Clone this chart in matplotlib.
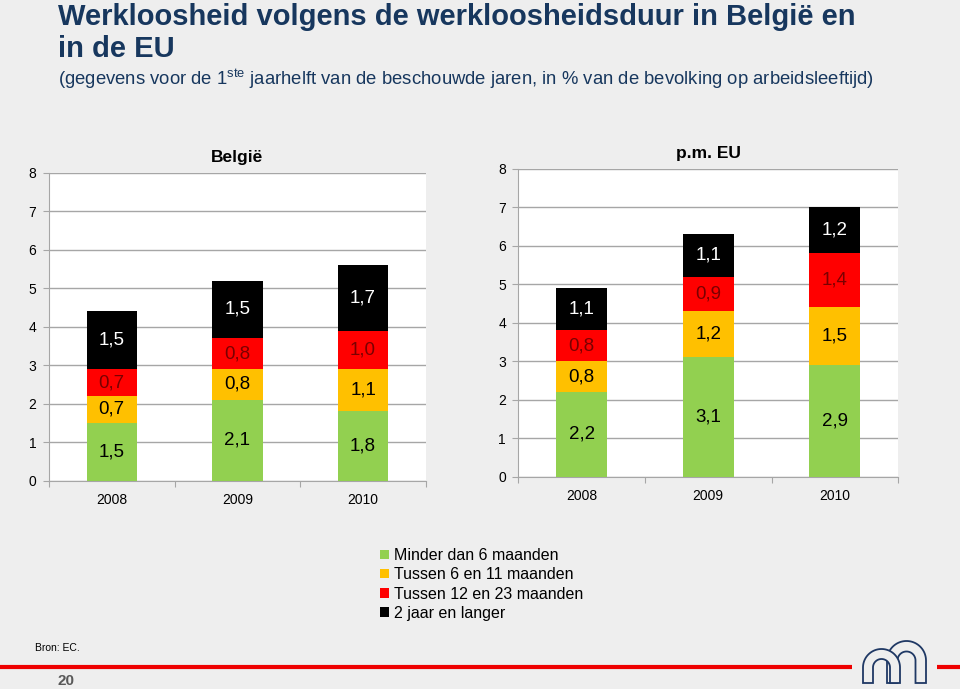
import matplotlib
matplotlib.use('Agg')
import matplotlib.pyplot as plt
from matplotlib.patches import Patch, PathPatch
from matplotlib.path import Path
import numpy as np

plt.rcParams['font.family'] = ['Liberation Sans', 'DejaVu Sans']
plt.rcParams['mathtext.fontset'] = 'custom'
plt.rcParams['mathtext.rm'] = 'Liberation Sans'

# data
years = ['2008', '2009', '2010']
series_names = ['Minder dan 6 maanden', 'Tussen 6 en 11 maanden',
                'Tussen 12 en 23 maanden', '2 jaar en langer']
be_lt6 = [1.5, 2.1, 1.8]
be_6_11 = [0.7, 0.8, 1.1]
be_12_23 = [0.7, 0.8, 1.0]
be_2plus = [1.5, 1.5, 1.7]
eu_lt6 = [2.2, 3.1, 2.9]
eu_6_11 = [0.8, 1.2, 1.5]
eu_12_23 = [0.8, 0.9, 1.4]
eu_2plus = [1.1, 1.1, 1.2]

colors = ['#92d050', '#ffc000', '#ff0000', '#000000']
label_colors = ['#000000', '#000000', '#7a0000', '#ffffff']
bg = '#eeeeee'
navy = '#17375e'
grid_c = '#a6a6a6'

fig = plt.figure(figsize=(9.6, 6.89), dpi=100, facecolor=bg)


def draw_panel(ax, stacks, title):
    x = np.arange(len(years))
    bottom = np.zeros(len(years))
    for vals, c, lc in zip(stacks, colors, label_colors):
        vals = np.array(vals)
        ax.bar(x, vals, 0.4, bottom=bottom, color=c, zorder=3)
        for xi, b, v in zip(x, bottom, vals):
            ax.text(xi, b + v / 2, f'{v:.1f}'.replace('.', ','), ha='center',
                    va='center', fontsize=13.5, color=lc, zorder=4)
        bottom += vals
    ax.set_xlim(-0.5, 2.5)
    ax.set_ylim(0, 8)
    ax.set_yticks(range(9))
    ax.set_xticks([-0.5, 0.5, 1.5, 2.5])
    ax.set_xticklabels([])
    ax.set_xticks(x, minor=True)
    ax.set_xticklabels(years, minor=True)
    ax.tick_params(axis='x', which='minor', length=0, pad=9, labelsize=10)
    ax.tick_params(axis='x', which='major', length=4, color=grid_c, direction='out')
    ax.tick_params(axis='y', length=4, color=grid_c, pad=5, labelsize=10)
    ax.grid(axis='y', color=grid_c, lw=1, zorder=1)
    ax.set_axisbelow(True)
    for s in ['top', 'right']:
        ax.spines[s].set_visible(False)
    for s in ['left', 'bottom']:
        ax.spines[s].set_color(grid_c)
    ax.set_facecolor('white')
    ax.set_title(title, fontsize=12.5, fontweight='bold', pad=8)


ax1 = fig.add_axes([0.051, 0.3023, 0.3927, 0.447])
draw_panel(ax1, [be_lt6, be_6_11, be_12_23, be_2plus], 'België')
ax2 = fig.add_axes([0.540, 0.3081, 0.3955, 0.447])
draw_panel(ax2, [eu_lt6, eu_6_11, eu_12_23, eu_2plus], 'p.m. EU')

# titles
fig.text(58 / 960, 1 - 17 / 689, 'Werkloosheid volgens de werkloosheidsduur in België en',
         fontsize=21, fontweight='bold', color=navy, va='center')
fig.text(58 / 960, 1 - 49 / 689, 'in de EU', fontsize=21, fontweight='bold',
         color=navy, va='center')
fig.text(58 / 960, 1 - 79 / 689,
         r'(gegevens voor de 1$^{\mathrm{ste}}$ jaarhelft van de beschouwde jaren, in % van de bevolking op arbeidsleeftijd)',
         fontsize=13.3, color=navy, va='center')

# legend
handles = [Patch(facecolor=c, edgecolor='none') for c in colors]
fig.legend(handles, series_names, loc='upper left', bbox_to_anchor=(372 / 960, 1 - 540 / 689),
           frameon=False, handlelength=0.55, handleheight=0.55,
           handletextpad=0.3, labelspacing=0.27, borderpad=0,
           prop={'family': ['Liberation Sans'], 'size': 11.5})

# footer decorations
deco = fig.add_axes([0, 0, 1, 1], facecolor='none')
deco.set_xlim(0, 960)
deco.set_ylim(689, 0)
deco.axis('off')
deco.plot([0, 852], [666.5, 666.5], color='#ee0000', lw=3, solid_capstyle='butt')
deco.plot([937, 960], [666.5, 666.5], color='#ee0000', lw=3, solid_capstyle='butt')
deco.text(35, 648, 'Bron: EC.', fontsize=7.5, va='center')
deco.text(58, 681, '20', fontsize=11, color='#595959', va='center', fontweight='bold')


def arch(cx, cy, r_out, r_in, bottom_y):
    t = np.linspace(np.pi, 0, 40)
    outer = [(cx - r_out, bottom_y)] + [(cx + r_out * np.cos(a), cy - r_out * np.sin(a)) for a in t] + [(cx + r_out, bottom_y)]
    inner = [(cx + r_in, bottom_y)] + [(cx + r_in * np.cos(a), cy - r_in * np.sin(a)) for a in t[::-1]] + [(cx - r_in, bottom_y)]
    pts = outer + inner + [outer[0]]
    codes = [Path.MOVETO] + [Path.LINETO] * (len(pts) - 2) + [Path.CLOSEPOLY]
    return PathPatch(Path(pts, codes), facecolor=bg, edgecolor='#1f3864', lw=1.3)


deco.add_patch(arch(906.5, 660.5, 19.5, 9, 683))
deco.add_patch(arch(881.5, 667.5, 18.5, 8.5, 683))

fig.savefig('out.png', dpi=100, facecolor=bg)
